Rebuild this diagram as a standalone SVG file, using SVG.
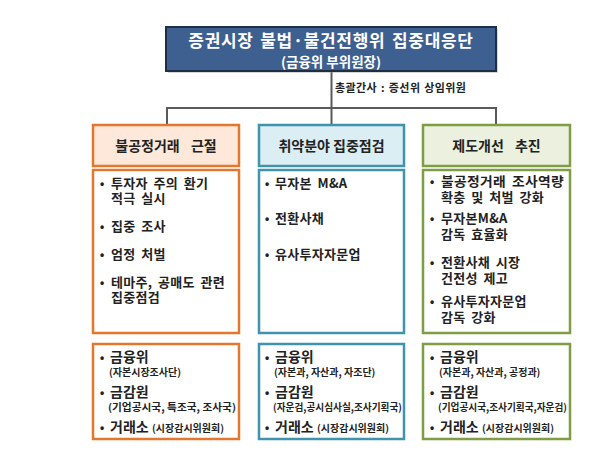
<svg xmlns="http://www.w3.org/2000/svg" width="600" height="452" viewBox="0 0 600 452">
<style>
text{font-family:"Noto Sans CJK KR","Noto Sans",sans-serif;font-weight:bold;fill:#222}
.title{fill:#fff;font-size:17px;text-anchor:middle;letter-spacing:0.7px;word-spacing:2px}
.sub{fill:#fff;font-size:13.5px;text-anchor:middle}
.note{font-size:11px;letter-spacing:0.4px;word-spacing:1px}
.hd{font-size:14px;text-anchor:middle}
.ws{word-spacing:8px}
.it{font-size:13px;letter-spacing:0.3px;word-spacing:2.5px}
.bul{font-family:"Liberation Sans",sans-serif;font-size:12px}
.org{font-size:14px}
.sm{font-size:10px;font-weight:bold;letter-spacing:0;word-spacing:0}
.line{fill:none;stroke:#5a5a5a;stroke-width:2}
.o{stroke:#e2772d;stroke-width:2.5}
.b{stroke:#3f93ac;stroke-width:2.5}
.g{stroke:#7f9d45;stroke-width:2.5}
</style>
<rect width="600" height="452" fill="#fff"/>
<g id="connectors">
<path class="line" d="M331.5 71 V108 M167 125 V108 H496 V125 M331.5 108 V125"/>
</g>
<g id="top">
<rect x="168" y="29" width="330" height="44" fill="#999" opacity="0.4"/>
<rect x="166" y="27" width="330" height="44" fill="#3d6090" stroke="#1e2e44" stroke-width="2"/>
<text class="title" x="331" y="47">증권시장 불법·불건전행위 집중대응단</text>
<text class="sub" x="331" y="67">(금융위 부위원장)</text>
</g>
<g id="note">
<text class="note" x="335" y="92">총괄간사 : 증선위 상임위원</text>
</g>
<g id="h1">
<rect x="93" y="125" width="146" height="41" fill="#fde8d9" class="o"/>
<text class="hd ws" x="166" y="151">불공정거래 근절</text>
</g>
<g id="h2">
<rect x="259" y="125" width="145" height="41" fill="#dbeef4" class="b"/>
<text class="hd" x="331.5" y="151">취약분야 집중점검</text>
</g>
<g id="h3">
<rect x="423" y="125" width="147" height="41" fill="#ebf1de" class="g"/>
<text class="hd ws" x="496.5" y="151">제도개선 추진</text>
</g>
<g id="b1">
<rect x="93" y="170" width="146" height="163" fill="#fff" class="o"/>
<text class="bul" x="100" y="188">•</text><text class="it" x="111" y="188">투자자 주의 환기<tspan x="111" y="203">적극 실시</tspan></text>
<text class="bul" x="100" y="231">•</text><text class="it" x="111" y="231">집중 조사</text>
<text class="bul" x="100" y="259">•</text><text class="it" x="111" y="259">엄정 처벌</text>
<text class="bul" x="100" y="287">•</text><text class="it" x="111" y="287">테마주, 공매도 관련<tspan x="111" y="302">집중점검</tspan></text>
</g>
<g id="b2">
<rect x="259" y="170" width="145" height="163" fill="#fff" class="b"/>
<text class="bul" x="265" y="188">•</text><text class="it" x="275" y="188">무자본 M&amp;A</text>
<text class="bul" x="265" y="223">•</text><text class="it" x="275" y="223">전환사채</text>
<text class="bul" x="265" y="259">•</text><text class="it" x="275" y="259">유사투자자문업</text>
</g>
<g id="b3">
<rect x="423" y="170" width="147" height="163" fill="#fff" class="g"/>
<text class="bul" x="430" y="186">•</text><text class="it" x="441" y="186" textLength="123" lengthAdjust="spacingAndGlyphs">불공정거래 조사역량</text>
<text class="it" x="441" y="202">확충 및 처벌 강화</text>
<text class="bul" x="430" y="223">•</text><text class="it" x="441" y="223">무자본M&amp;A<tspan x="441" y="239">감독 효율화</tspan></text>
<text class="bul" x="430" y="267">•</text><text class="it" x="441" y="267">전환사채 시장<tspan x="441" y="283">건전성 제고</tspan></text>
<text class="bul" x="430" y="306">•</text><text class="it" x="441" y="306">유사투자자문업<tspan x="441" y="322">감독 강화</tspan></text>
</g>
<g id="c1">
<rect x="93" y="344" width="146" height="95" fill="#fff" class="o"/>
<text class="bul" x="100" y="362">•</text><text class="org" x="110" y="362">금융위<tspan class="sm" x="109" y="376">(자본시장조사단)</tspan></text>
<text class="bul" x="100" y="397">•</text><text class="org" x="110" y="397">금감원<tspan class="sm" x="108" y="411" textLength="128" lengthAdjust="spacingAndGlyphs">(기업공시국, 특조국, 조사국)</tspan></text>
<text class="bul" x="100" y="432">•</text><text class="org" x="110" y="432">거래소<tspan class="sm" x="152">(시장감시위원회)</tspan></text>
</g>
<g id="c2">
<rect x="259" y="344" width="145" height="95" fill="#fff" class="b"/>
<text class="bul" x="265" y="362">•</text><text class="org" x="275" y="362">금융위<tspan class="sm" x="274" y="376">(자본과, 자산과, 자조단)</tspan></text>
<text class="bul" x="265" y="397">•</text><text class="org" x="275" y="397">금감원<tspan class="sm" x="273" y="411" textLength="129" lengthAdjust="spacingAndGlyphs">(자운검,공시심사실,조사기획국)</tspan></text>
<text class="bul" x="265" y="432">•</text><text class="org" x="275" y="432">거래소<tspan class="sm" x="317">(시장감시위원회)</tspan></text>
</g>
<g id="c3">
<rect x="423" y="344" width="147" height="95" fill="#fff" class="g"/>
<text class="bul" x="430" y="362">•</text><text class="org" x="440" y="362">금융위<tspan class="sm" x="439" y="376">(자본과, 자산과, 공정과)</tspan></text>
<text class="bul" x="430" y="397">•</text><text class="org" x="440" y="397">금감원<tspan class="sm" x="438" y="411" textLength="129" lengthAdjust="spacingAndGlyphs">(기업공시국,조사기획국,자운검)</tspan></text>
<text class="bul" x="430" y="432">•</text><text class="org" x="440" y="432">거래소<tspan class="sm" x="482">(시장감시위원회)</tspan></text>
</g>
</svg>
